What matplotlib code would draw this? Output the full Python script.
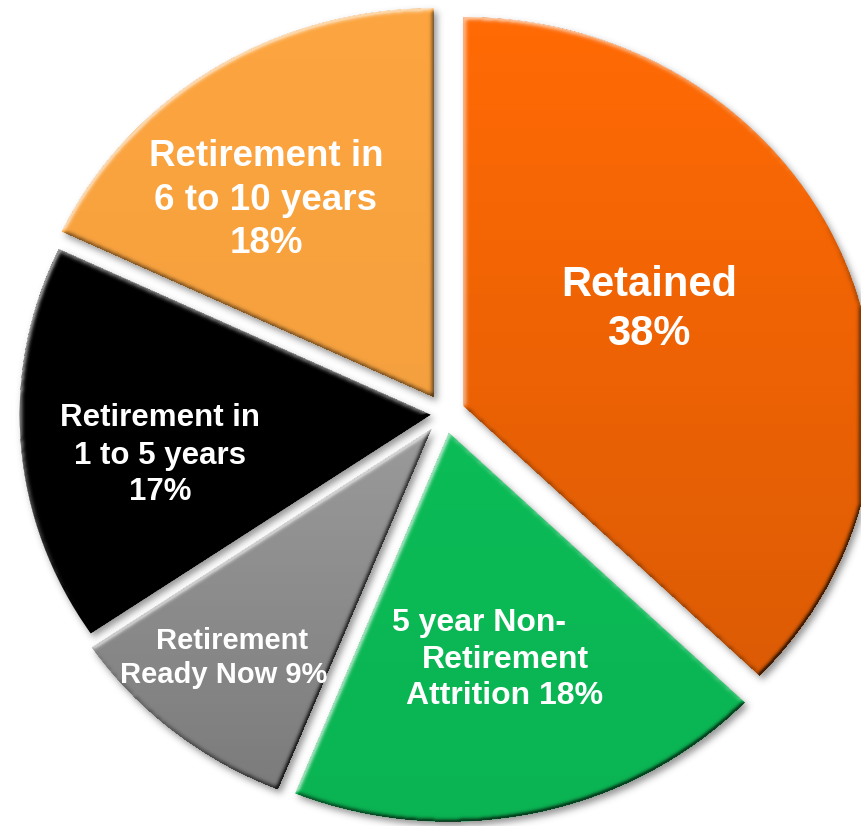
import numpy as np
import matplotlib
matplotlib.use("Agg")
import matplotlib.pyplot as plt

# ---- data ----
categories = ["Retained", "5 year Non-Retirement Attrition", "Retirement Ready Now",
              "Retirement in 1 to 5 years", "Retirement in 6 to 10 years"]
shares = [37.2, 18.9, 9.4, 16.5, 18.0]
label_texts = ["Retained\n38%", "5 year Non-\nRetirement\nAttrition 18%",
               "Retirement\nReady Now 9%", "Retirement in\n1 to 5 years\n17%",
               "Retirement in\n6 to 10 years\n18%"]

# ---- style ----
colors = ["#FF6A05", "#0BBB56", "#9A9A9A", "#000000", "#FCA540"]
vert_darken = [0.14, 0.04, 0.2, 0.0, 0.03]
explode = [0.05, 0.05, 0.05, 0.034, 0.05]
label_pos = [(649, 305), (505, 656), (224, 655), (160, 452), (266, 196)]  # pixel centres
label_size = [30, 23, 21, 22.5, 26.5]
line_gap = [50, 36, 34, 37, 44]            # pixels between lines
line_dx = [[0, 0], [-26, 0, 0], [8, 0], [0, 0, 0], [0, 0, 0]]

W, H = 861, 826
fig = plt.figure(figsize=(W / 100, H / 100), dpi=100)
fig.patch.set_facecolor("white")
ax = fig.add_axes([0, 0, 1, 1])

wedges, _ = ax.pie(shares, startangle=90, counterclock=False, explode=explode,
                   colors=colors, radius=1.0,
                   wedgeprops=dict(linewidth=0, zorder=2))
ax.set_aspect("auto")
xlim = (-1.0818, 1.0131)
ylim = (-1.0599, 1.0635)
ax.set_xlim(*xlim)
ax.set_ylim(*ylim)
ax.axis("off")


def blur(a, sigma):
    r = int(3 * sigma) + 1
    x = np.arange(-r, r + 1)
    w = np.exp(-x ** 2 / (2 * sigma ** 2))
    w /= w.sum()
    p = np.pad(a, ((0, 0), (r, r)), mode="constant")
    out = np.zeros_like(a, dtype=float)
    for i in range(2 * r + 1):
        out += w[i] * p[:, i:i + a.shape[1]]
    p = np.pad(out, ((r, r), (0, 0)), mode="constant")
    out2 = np.zeros_like(a, dtype=float)
    for i in range(2 * r + 1):
        out2 += w[i] * p[i:i + a.shape[0], :]
    return out2


def shift(a, dy, dx):
    out = np.zeros_like(a)
    out[dy:, dx:] = a[:a.shape[0] - dy, :a.shape[1] - dx]
    return out


# pixel grid in display coordinates
cols = np.arange(W) + 0.5
rows = np.arange(H) + 0.5
XX, YY = np.meshgrid(cols, H - rows)
pts = np.column_stack([XX.ravel(), YY.ravel()])

masks = []
for wdg in wedges:
    path = wdg.get_transform().transform_path(wdg.get_path())
    m = path.contains_points(pts).reshape(H, W).astype(float)
    masks.append(m)

union = np.clip(sum(masks), 0, 1)

# soft drop shadow
sh = blur(shift(union, 4, 3), 3.5)
shadow = np.zeros((H, W, 4))
shadow[..., :3] = 0.25
shadow[..., 3] = 0.55 * sh
ext = (xlim[0], xlim[1], ylim[0], ylim[1])
ax.imshow(shadow, extent=ext, origin="upper", aspect="auto",
          interpolation="nearest", zorder=1)

# bevel + vertical gradient overlays
dark = np.zeros((H, W))
light = np.zeros((H, W))
Lx, Ly = -0.55, -0.83
for m, g in zip(masks, vert_darken):
    b = blur(m, 2.2)
    gy, gx = np.gradient(b)
    shade = -(gx * Lx + gy * Ly)
    k = 4.5
    light += np.clip(k * shade, 0, 0.55) * m
    dark += np.clip(-k * shade, 0, 0.6) * m
    rr = np.where(m.any(axis=1))[0]
    if len(rr):
        t = (np.arange(H) - rr.min()) / max(rr.max() - rr.min(), 1)
        dark += (g * np.clip(t, 0, 1))[:, None] * m

dark = np.clip(dark, 0, 1)
light = np.clip(light, 0, 1)
ov_d = np.zeros((H, W, 4)); ov_d[..., 3] = dark
ov_l = np.ones((H, W, 4)); ov_l[..., 3] = light
for ov, z in ((ov_d, 3), (ov_l, 4)):
    ax.imshow(ov, extent=ext, origin="upper", aspect="auto",
              interpolation="nearest", zorder=z)

# labels (one text per line so the spacing follows the reference)
for txt, (px, py), fs, gap, dxs in zip(label_texts, label_pos, label_size,
                                       line_gap, line_dx):
    lines = txt.split("\n")
    n = len(lines)
    for i, (ln, dx) in enumerate(zip(lines, dxs)):
        y = py + (i - (n - 1) / 2) * gap
        fig.text((px + dx) / W, 1 - y / H, ln, ha="center", va="center_baseline",
                 color="white", fontsize=fs, fontweight="bold",
                 family=["Liberation Sans", "DejaVu Sans"], zorder=10)

fig.savefig("out.png", dpi=100, facecolor="white")
